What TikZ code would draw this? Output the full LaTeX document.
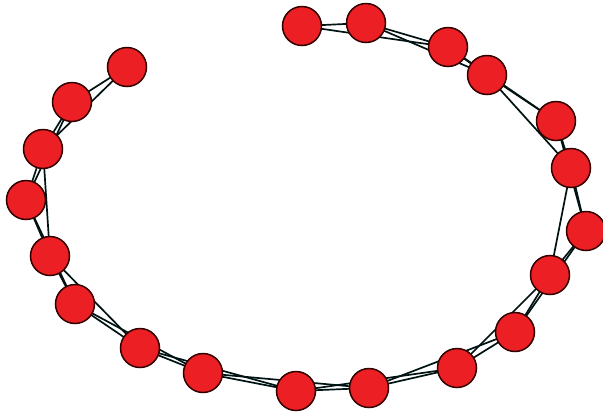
\documentclass[tikz,border=0pt]{standalone}
\begin{document}
\begin{tikzpicture}[x=1pt,y=-1pt,
  vtx/.style={circle,draw=black!80!red,line width=1.5pt,fill=nodered,minimum size=39pt,inner sep=0pt},
  link/.style={draw=black!85!teal,line width=1.7pt}]
\definecolor{nodered}{RGB}{236,32,36}
\useasboundingbox (0,0) rectangle (603,416);
\foreach \n/\x/\y in {1/127/67,2/72/102,3/43/149,4/26/200,5/50/256,6/75/304,7/140/348,8/203/373,9/296/391,10/369/388,11/457/368,12/515/332,13/550/275,14/586/231,15/571/168,16/556/121,17/487/75,18/448/47,19/366/23,20/302/26}
  \coordinate (c\n) at (\x,\y);
\foreach \a/\b in {1/2,1/3,2/3,2/4,3/4,3/5,4/5,4/6,5/6,5/7,6/7,6/8,7/8,7/9,8/9,8/10,9/10,9/11,10/11,10/12,11/12,11/13,12/13,12/14,13/14,13/15,14/15,14/16,15/16,15/17,16/17,16/18,17/18,17/19,18/19,18/20,19/20}
  \draw[link] (c\a) -- (c\b);
\foreach \n in {1,...,20}
  \node[vtx] (v\n) at (c\n) {};
\end{tikzpicture}
\end{document}
